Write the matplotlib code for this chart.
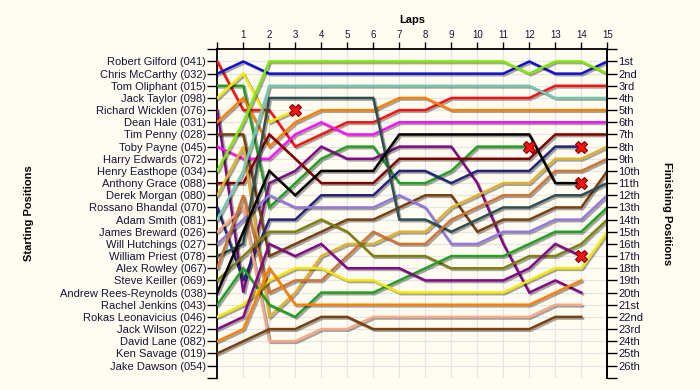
import matplotlib
matplotlib.use("Agg")
import matplotlib.pyplot as plt
import matplotlib.patheffects as pe

BG = "#fffdf2"
TXT = "#141438"

laps = list(range(16))

start_names = [
    "Robert Gilford (041)", "Chris McCarthy (032)", "Tom Oliphant (015)",
    "Jack Taylor (098)", "Richard Wicklen (076)", "Dean Hale (031)",
    "Tim Penny (028)", "Toby Payne (045)", "Harry Edwards (072)",
    "Henry Easthope (034)", "Anthony Grace (088)", "Derek Morgan (080)",
    "Rossano Bhandal (070)", "Adam Smith (081)", "James Breward (026)",
    "Will Hutchings (027)", "William Priest (078)", "Alex Rowley (067)",
    "Steve Keiller (069)", "Andrew Rees-Reynolds (038)", "Rachel Jenkins (043)",
    "Rokas Leonavicius (046)", "Jack Wilson (022)", "David Lane (082)",
    "Ken Savage (019)", "Jake Dawson (054)",
]

finish_labels = [
    "1st", "2nd", "3rd", "4th", "5th", "6th", "7th", "8th", "9th", "10th",
    "11th", "12th", "13th", "14th", "15th", "16th", "17th", "18th", "19th",
    "20th", "21st", "22nd", "23rd", "24th", "25th", "26th",
]

# one line per starter (Harry Edwards and Jake Dawson did not start)
colors = [
    "#ff1010", "#1010d0", "#22a022", "#f5e800", "#800a88", "#ff8000",
    "#7a4010", "#ff10ff", "#80e800", "#800000", "#e0b030", "#24247a",
    "#74c8b0", "#f8a888", "#9478dc", "#2f4f4f", "#d07434", "#808010",
    "#000000", "#22a022", "#f5e800", "#800a88", "#ff8000", "#7a4010",
]

positions = [
    [1, 5, 5, 8, 7, 6, 6, 5, 5, 4, 4, 4, 4, 3, 3, 3],
    [2, 1, 2, 2, 2, 2, 2, 2, 2, 2, 2, 2, 1, 2, 2, 1],
    [3, 3, 13, 11, 9, 8, 8, 11, 11, 10, 8, 8, 8],
    [4, 2, 6, 5],
    [5, 20, 11, 10, 8, 9, 9, 8, 8, 8, 11, 16, 20, 19, 20],
    [6, 4, 8, 6, 5, 5, 5, 4, 4, 5, 5, 5, 5, 5, 5, 5],
    [7, 7, 17, 16, 15, 14, 14, 13, 12, 12, 15, 14, 14, 13, 13, 10],
    [8, 9, 9, 7, 6, 7, 7, 6, 6, 6, 6, 6, 6, 6, 6, 6],
    [10, 6, 1, 1, 1, 1, 1, 1, 1, 1, 1, 1, 2, 1, 1, 2],
    [11, 11, 7, 9, 11, 11, 11, 9, 9, 9, 9, 9, 9, 7, 7, 7],
    [12, 8, 22, 20, 17, 16, 16, 15, 15, 13, 12, 11, 11, 9, 9, 8],
    [13, 19, 14, 14, 12, 12, 12, 10, 10, 11, 10, 10, 10, 8, 8],
    [14, 10, 3, 3, 3, 3, 3, 3, 3, 3, 3, 3, 3, 4, 4, 4],
    [15, 13, 24, 24, 23, 23, 22, 22, 22, 22, 22, 22, 22, 21, 21],
    [16, 14, 12, 13, 13, 13, 13, 12, 13, 16, 16, 15, 15, 14, 14, 12],
    [17, 16, 4, 4, 4, 4, 4, 14, 14, 15, 14, 13, 13, 12, 12, 11],
    [18, 12, 20, 19, 19, 17, 15, 16, 16, 14, 13, 12, 12, 10, 10, 9],
    [19, 17, 15, 15, 14, 15, 17, 17, 17, 18, 18, 18, 17, 17, 16, 14],
    [20, 15, 10, 12, 10, 10, 10, 7, 7, 7, 7, 7, 7, 11, 11],
    [21, 18, 21, 22, 20, 20, 20, 19, 18, 17, 17, 17, 16, 15, 15, 13],
    [22, 21, 19, 18, 18, 19, 19, 20, 20, 20, 20, 20, 19, 18, 18, 15],
    [23, 22, 16, 17, 16, 18, 18, 18, 19, 19, 19, 19, 18, 16, 17],
    [24, 23, 18, 21, 21, 21, 21, 21, 21, 21, 21, 21, 21, 20, 19],
    [25, 24, 23, 23, 22, 22, 23, 23, 23, 23, 23, 23, 23, 22, 22],
]

# True where the driver retired (red cross at the last lap drawn)
retired = [
    False, False, True, True, False, False, False, False, False, False,
    False, True, False, False, False, False, False, False, True, False,
    False, True, False, False,
]

plt.rcParams["font.family"] = ["Liberation Sans", "DejaVu Sans"]

fig = plt.figure(figsize=(7, 3.9), dpi=100, facecolor=BG)
ax = fig.add_axes([0.3104, 0.0315, 0.5572, 0.8421])
ax.set_facecolor(BG)
ax.set_xlim(0, 15)
ax.set_ylim(27, 0)

# grid
for x in laps:
    ax.axvline(x, color="#e4e4e4", lw=0.9, zorder=0)
for y in range(1, 27):
    ax.axhline(y, color="#e4e4e4", lw=0.9, zorder=0)

shadow = [pe.SimpleLineShadow(offset=(1.2, -1.2), shadow_color="#000000", alpha=0.35),
          pe.Normal()]

for pos, col, out in zip(positions, colors, retired):
    xs = laps[:len(pos)]
    ax.plot(xs, pos, color=col, lw=1.8, solid_joinstyle="miter",
            path_effects=shadow, zorder=3)
    if out:
        ax.plot(xs[-1], pos[-1], marker="X", ms=9, color="#ff1010",
                mec="#7a0000", mew=0.8, zorder=5)

# axes cosmetics
for side in ("left", "right", "top"):
    ax.spines[side].set_color("black")
    ax.spines[side].set_linewidth(1.3)
ax.spines["bottom"].set_visible(False)

ax.xaxis.tick_top()
ax.set_xticks(laps)
ax.set_xticklabels([""] + [str(l) for l in laps[1:]])
ax.tick_params(axis="x", length=5, width=1, colors="black", labelcolor=TXT,
               labelsize=7, pad=2)
ax.set_xlabel("Laps", fontsize=8, fontweight="bold", labelpad=5)
ax.xaxis.set_label_position("top")

ax.set_yticks(range(0, 28))
ax.set_yticklabels([""] + start_names + [""])
ax.tick_params(axis="y", length=7, width=1, colors="black", labelcolor=TXT,
               labelsize=8, pad=1)
ax.set_ylabel("Starting Positions", fontsize=8, fontweight="bold", labelpad=0)
ax.yaxis.set_label_coords(-0.47, 0.5)

ax2 = ax.twinx()
ax2.set_ylim(27, 0)
ax2.set_yticks(range(0, 28))
ax2.set_yticklabels([""] + finish_labels + [""])
ax2.tick_params(axis="y", length=7, width=1, colors="black", labelcolor=TXT,
                labelsize=8, pad=1)
for side in ("left", "bottom", "top"):
    ax2.spines[side].set_visible(False)
ax2.spines["right"].set_linewidth(1.3)
ax2.set_ylabel("Finishing Positions", fontsize=8, fontweight="bold",
               rotation=270, labelpad=0)
ax2.yaxis.set_label_coords(1.166, 0.5)

fig.savefig("out.png", dpi=100, facecolor=BG)
